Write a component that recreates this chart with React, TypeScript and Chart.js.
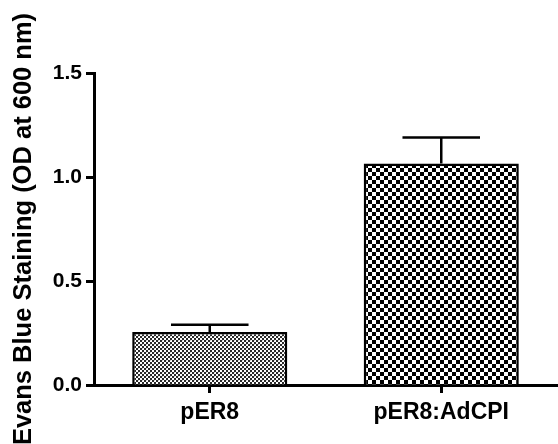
import React, { useEffect, useRef } from "react";
import { Chart, registerables } from "chart.js";

Chart.register(...registerables);

const categories = ["pER8", "pER8:AdCPI"];
const means = [0.255, 1.065];
const errors = [0.035, 0.125];
const yTicks = [0, 0.5, 1.0, 1.5];
const yTitle = "Evans Blue Staining (OD at 600 nm)";

const FONT = "'Liberation Sans', Arial, Helvetica, sans-serif";

function finePattern(ctx: CanvasRenderingContext2D) {
  const c = document.createElement("canvas");
  c.width = 4;
  c.height = 4;
  const g = c.getContext("2d")!;
  g.fillStyle = "#ffffff";
  g.fillRect(0, 0, 4, 4);
  g.fillStyle = "#2a2a2a";
  g.fillRect(0, 0, 2, 2);
  g.fillRect(2, 2, 2, 2);
  g.fillStyle = "#cfcfcf";
  g.fillRect(2, 0, 1, 1);
  return ctx.createPattern(c, "repeat")!;
}

function coarsePattern(ctx: CanvasRenderingContext2D) {
  const c = document.createElement("canvas");
  c.width = 8;
  c.height = 8;
  const g = c.getContext("2d")!;
  g.fillStyle = "#ffffff";
  g.fillRect(0, 0, 8, 8);
  g.fillStyle = "#000000";
  g.fillRect(0, 0, 4, 4);
  g.fillRect(4, 4, 4, 4);
  return ctx.createPattern(c, "repeat")!;
}

const errorBarPlugin = {
  id: "errorBars",
  afterDatasetsDraw(chart: any) {
    const ctx = chart.ctx;
    const meta = chart.getDatasetMeta(0);
    const y = chart.scales.y;
    ctx.save();
    ctx.strokeStyle = "#000";
    ctx.lineWidth = 2.5;
    meta.data.forEach((bar: any, i: number) => {
      const x = bar.x;
      const yTop = y.getPixelForValue(means[i] + errors[i]);
      const yBar = y.getPixelForValue(means[i]);
      const half = bar.width / 4;
      ctx.beginPath();
      ctx.moveTo(x, yBar);
      ctx.lineTo(x, yTop);
      ctx.moveTo(x - half, yTop);
      ctx.lineTo(x + half, yTop);
      ctx.stroke();
    });
    ctx.restore();
  },
};

export default function App() {
  const ref = useRef<HTMLCanvasElement>(null);
  useEffect(() => {
    const canvas = ref.current!;
    const ctx = canvas.getContext("2d")!;
    const chart = new Chart(ctx, {
      type: "bar",
      data: {
        labels: categories,
        datasets: [
          {
            data: means,
            backgroundColor: [finePattern(ctx), coarsePattern(ctx)],
            borderColor: "#000",
            borderWidth: 2.5,
            barPercentage: 0.67,
            categoryPercentage: 1,
          },
        ],
      },
      options: {
        responsive: false,
        animation: false,
        layout: { padding: { top: 73, right: 1, left: 0, bottom: 0 } },
        plugins: { legend: { display: false }, tooltip: { enabled: false } },
        scales: {
          x: {
            offset: true,
            grid: {
              display: true,
              drawOnChartArea: false,
              offset: false,
              tickLength: 8,
              tickWidth: 3,
              color: "#000",
            },
            border: { display: true, color: "#000", width: 3 },
            ticks: {
              color: "#000",
              padding: 6,
              font: { family: FONT, size: 23, weight: "bold" },
              maxRotation: 0,
            },
            afterFit(scale: any) {
              scale.height = 59;
            },
          },
          y: {
            min: 0,
            max: 1.5,
            afterBuildTicks(scale: any) {
              scale.ticks = yTicks.map((v) => ({ value: v }));
            },
            grid: {
              display: true,
              drawOnChartArea: false,
              tickLength: 8,
              tickWidth: 3,
              color: "#000",
            },
            border: { display: true, color: "#000", width: 3 },
            ticks: {
              color: "#000",
              padding: 4,
              font: { family: FONT, size: 21, weight: "bold" },
              callback: (v: any) => Number(v).toFixed(1),
            },
            title: {
              display: true,
              text: yTitle,
              color: "#000",
              font: { family: FONT, size: 25.5, weight: "bold" },
              padding: { top: 9, bottom: 0 },
            },
            afterFit(scale: any) {
              scale.width = 94;
            },
          },
        },
      },
      plugins: [errorBarPlugin],
    });
    return () => chart.destroy();
  }, []);
  return (
    <div style={{ position: "fixed", left: 0, top: 0, width: 558, height: 444, background: "#fff" }}>
      <canvas ref={ref} width={558} height={444} />
    </div>
  );
}
